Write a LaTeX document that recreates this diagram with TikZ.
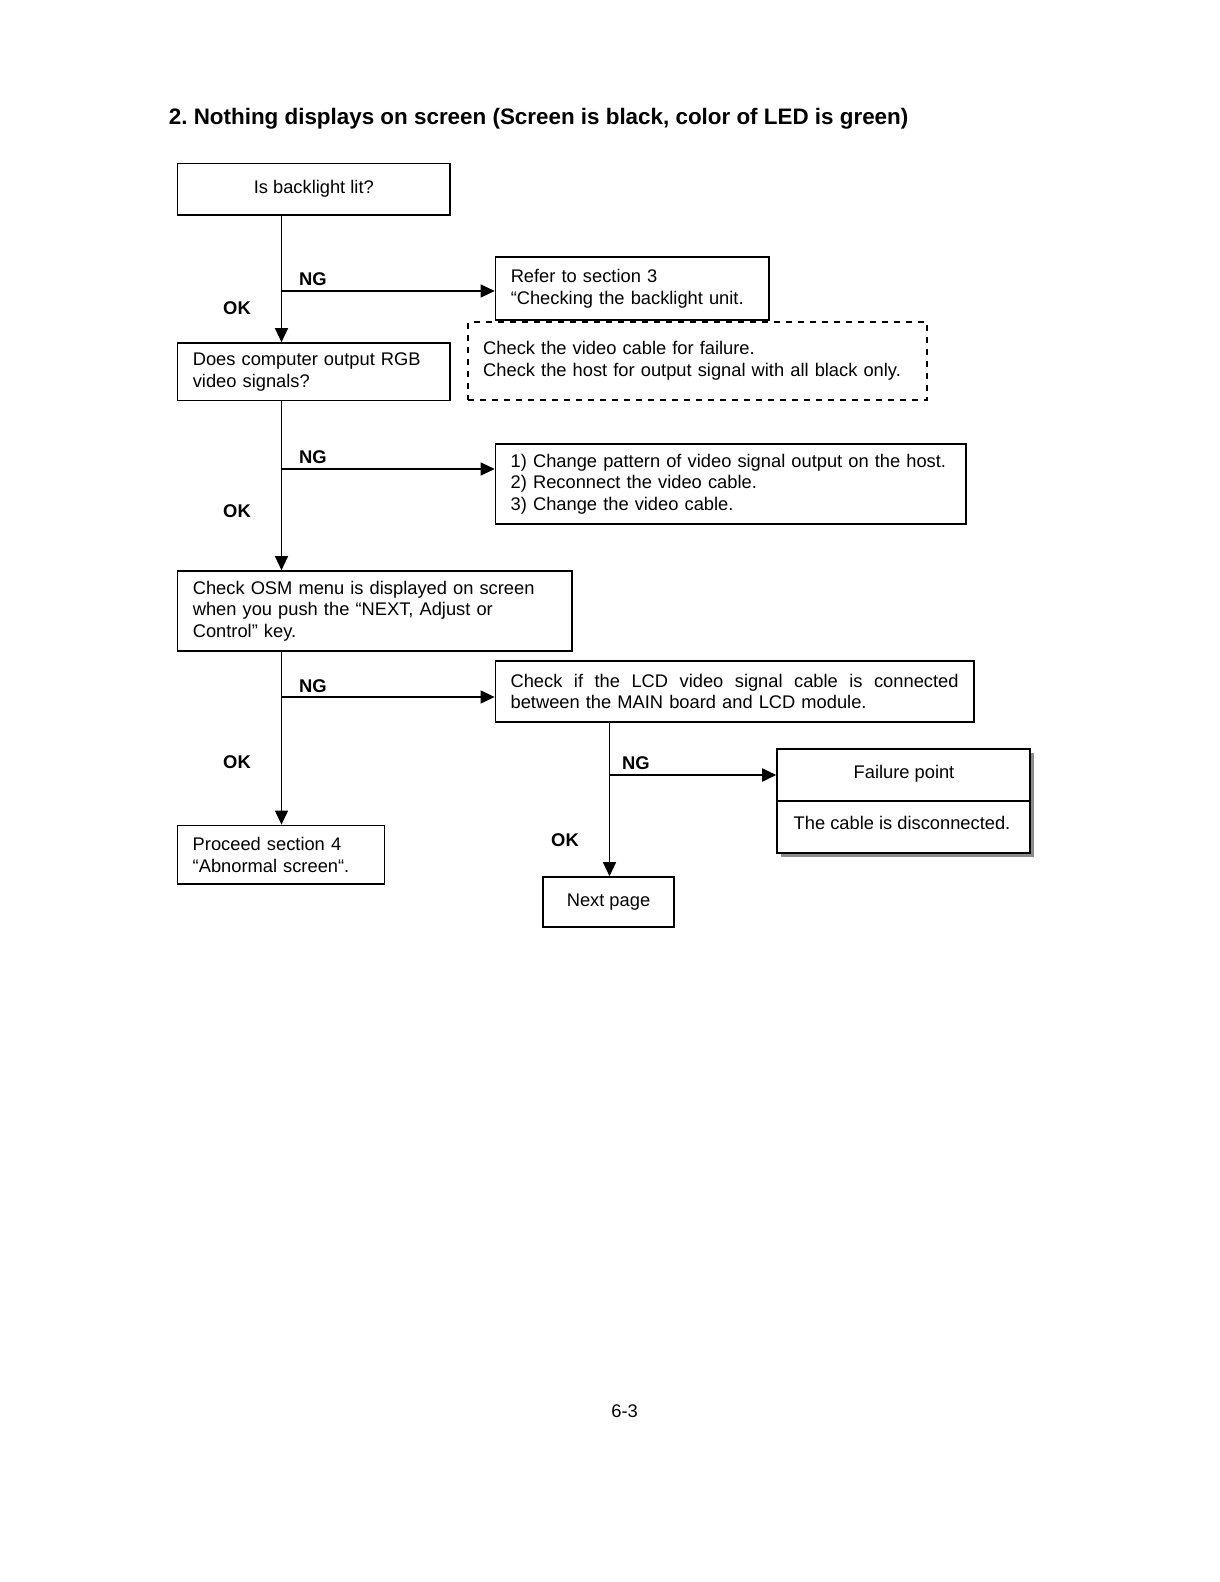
\documentclass[tikz,border=0pt]{standalone}
\usepackage{fontspec}
\setmainfont{Liberation Sans}
\usetikzlibrary{arrows.meta,shadows}
\frenchspacing
\begin{document}
\begin{tikzpicture}[x=0.5pt,y=-0.5pt,
  every node/.style={font=\fontsize{9.15pt}{10.8pt}\selectfont},
  box/.style={draw, line width=0.8pt, inner xsep=7.6pt, inner ysep=0pt},
  lbox/.style={box, align=left},
  lab/.style={font=\fontsize{9.2pt}{10.8pt}\selectfont\bfseries, inner sep=0pt},
  arr/.style={-{Triangle[length=7pt,width=6.5pt]}, line width=0.6pt},
  ln/.style={line width=0.6pt}]
\useasboundingbox (0,0) rectangle (1219,1582);

% title
\node[anchor=west, inner sep=0pt, font=\fontsize{11.2pt}{13pt}\selectfont\bfseries] (title) at (168.5,119)
  {2. Nothing displays on screen (Screen is black, color of LED is green)};

% boxes
\node[box, minimum width=136.2pt, minimum height=25.75pt] (b1) at (313.8,189.2) {Is backlight lit?};
\node[lbox, minimum width=136.2pt, minimum height=28.8pt, text width=121pt] (b2) at (313.8,371.8)
  {Does computer output RGB\\video signals?};
\node[lbox, minimum width=136.75pt, minimum height=31.5pt, text width=121.5pt] (ref) at (632.25,288.5)
  {Refer to section 3\\``Checking the backlight unit.};
\node[lbox, dashed, minimum width=229.5pt, minimum height=38.8pt, text width=214.3pt] (dash) at (697.5,361)
  {Check the video cable for failure.\\Check the host for output signal with all black only.};
\node[lbox, minimum width=235.1pt, minimum height=39.85pt, text width=219.9pt] (b3) at (730.6,483.9)
  {1) Change pattern of video signal output on the host.\\2) Reconnect the video cable.\\3) Change the video cable.};
\node[lbox, minimum width=197.2pt, minimum height=40pt, text width=182pt] (b4) at (374.8,611)
  {Check OSM menu is displayed on screen\\when you push the ``NEXT, Adjust or\\Control'' key.};
\node[lbox, minimum width=239.1pt, minimum height=30.75pt, text width=224pt] (b5) at (734.6,691.5)
  {\hbox to 224pt{Check\hfill if\hfill the\hfill LCD\hfill video\hfill signal\hfill cable\hfill is\hfill connected}\\between the MAIN board and LCD module.};
\node[lbox, minimum width=103.5pt, minimum height=29.3pt, text width=88.3pt] (b6) at (281,854.7)
  {Proceed section 4\\``Abnormal screen``.};
\node[box, minimum width=65.5pt, minimum height=25pt] (next) at (608.5,902) {Next page};
\node[box, minimum width=126.5pt, minimum height=52pt,
  drop shadow={shadow xshift=2pt, shadow yshift=-2pt, fill=black!45, opacity=1}, fill=white] (fail) at (903.5,801) {};
\draw[line width=0.8pt] (fail.west) -- (fail.east);
\node[inner sep=0pt] (failt) at (904,774) {Failure point};
\node[inner sep=0pt] (failc) at (902,823.4) {The cable is disconnected.};

% junctions
\coordinate (c1) at (281.5,291);
\coordinate (c2) at (281.5,469);
\coordinate (c3) at (281.5,697);
\coordinate (c4) at (609.5,775);

% connectors
\draw[arr] (b1.south -| c1) -- (b2.north -| c1);
\draw[arr] (c1) -- (ref.west |- c1);
\draw[arr] (b2.south -| c2) -- (b4.north -| c2);
\draw[arr] (c2) -- (b3.west |- c2);
\draw[arr] (b4.south -| c3) -- (b6.north -| c3);
\draw[arr] (c3) -- (b5.west |- c3);
\draw[arr] (b5.south -| c4) -- (next.north -| c4);
\draw[arr, line width=0.9pt] (c4) -- (fail.west |- c4);

% labels
\node[lab] (ng1) at (313,279.5) {NG};
\node[lab] (ok1) at (237,307.8) {OK};
\node[lab] (ng2) at (313,457) {NG};
\node[lab] (ok2) at (237,511.6) {OK};
\node[lab] (ng3) at (313,686) {NG};
\node[lab] (ok3) at (237,762) {OK};
\node[lab] (ng4) at (636,763) {NG};
\node[lab] (ok4) at (565,840.6) {OK};

% page number
\node[inner sep=0pt] (pg) at (624.6,1410.7) {6-3};
\end{tikzpicture}
\end{document}
